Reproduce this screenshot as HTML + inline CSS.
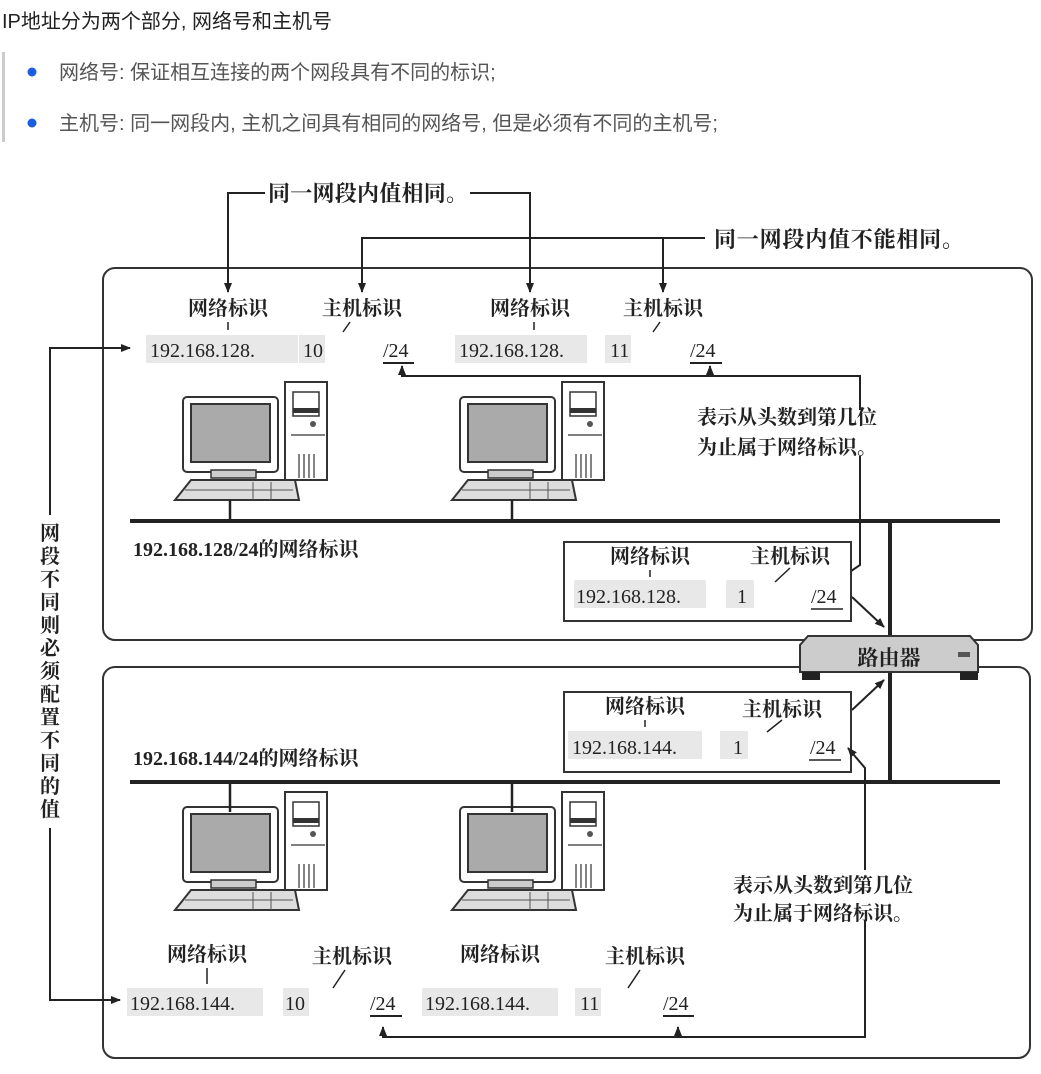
<!DOCTYPE html>
<html><head><meta charset="utf-8"><style>
body{margin:0;background:#fff;width:1041px;height:1074px;overflow:hidden}
svg{display:block}
.h{font-family:"Liberation Sans","Noto Sans CJK SC",sans-serif}
.s{font-family:"Liberation Serif","Noto Serif CJK SC",serif;fill:#222}
</style></head><body>
<svg width="1041" height="1074" viewBox="0 0 1041 1074" xmlns="http://www.w3.org/2000/svg">
<defs>
<marker id="a" markerWidth="10" markerHeight="10" refX="9" refY="5" orient="auto" markerUnits="userSpaceOnUse"><path d="M0,1 L10,5 L0,9 Z" fill="#222"/></marker>
<g id="pc">
 <rect x="0" y="15" width="95" height="75" rx="4" fill="#fff" stroke="#333" stroke-width="2"/>
 <rect x="8" y="22" width="79" height="58" fill="#aaa" stroke="#333" stroke-width="2"/>
 <rect x="28" y="88" width="45" height="8" fill="#ccc" stroke="#333" stroke-width="1.5"/>
 <rect x="102" y="0" width="42" height="98" fill="#fff" stroke="#333" stroke-width="2"/>
 <rect x="110" y="10" width="26" height="24" fill="#fff" stroke="#333" stroke-width="1.5"/>
 <rect x="110" y="26" width="26" height="5" fill="#333"/>
 <circle cx="130" cy="42" r="3" fill="#555"/>
 <path d="M108,53 H142 M116,72 V96 M121,72 V96 M126,72 V96 M131,72 V96" stroke="#333" stroke-width="1.2"/>
 <path d="M-8,118 L8,98 H112 L116,118 Z" fill="#ddd" stroke="#333" stroke-width="2"/>
 <path d="M2,108 H110 M70,100 V118 M88,100 V118" stroke="#555" stroke-width="1"/>
</g>
</defs>

<text class="h" x="2" y="28" font-size="20" fill="#222">IP地址分为两个部分, 网络号和主机号</text>
<rect x="2" y="52" width="3" height="90" fill="#ccc"/>
<circle cx="32" cy="72" r="4.5" fill="#1a5de0"/>
<text class="h" x="59" y="79" font-size="20" fill="#555">网络号: 保证相互连接的两个网段具有不同的标识;</text>
<circle cx="32" cy="123" r="4.5" fill="#1a5de0"/>
<text class="h" x="59" y="130" font-size="20" fill="#555">主机号: 同一网段内, 主机之间具有相同的网络号, 但是必须有不同的主机号;</text>

<g fill="none" stroke="#333" stroke-width="2">
 <rect x="103" y="268" width="929" height="372" rx="12"/>
 <rect x="103" y="667" width="927" height="391" rx="12"/>
</g>

<g stroke="#222" stroke-width="2" fill="none">
 <path d="M265,193 H228 V292" marker-end="url(#a)"/>
 <path d="M470,193 H530 V292" marker-end="url(#a)"/>
 <path d="M705,238 H362 V292" marker-end="url(#a)"/>
 <path d="M663,238 V292" marker-end="url(#a)"/>
</g>
<text class="s" x="268" y="201" font-size="22" font-weight="bold" textLength="200">同一网段内值相同。</text>
<text class="s" x="714" y="247" font-size="22" font-weight="bold" textLength="250">同一网段内值不能相同。</text>

<g class="s" font-size="20" text-anchor="middle" font-weight="bold">
 <text x="228" y="315">网络标识</text><text x="362" y="315">主机标识</text>
 <text x="530" y="315">网络标识</text><text x="663" y="315">主机标识</text>
</g>
<g fill="#e8e8e8"><rect x="146" y="335" width="152" height="28"/><rect x="299" y="335" width="26" height="28"/><rect x="455" y="335" width="132" height="28"/><rect x="605" y="335" width="26" height="28"/></g>
<g stroke="#222" stroke-width="1.5"><path d="M228,322 V330 M534,322 V330 M350,322 L343,332 M660,322 L653,332"/></g>
<g class="s" font-size="20">
 <text x="150" y="357">192.168.128.</text><text x="303" y="357">10</text><text x="383" y="357">/24</text>
 <text x="459" y="357">192.168.128.</text><text x="610" y="357">11</text><text x="690" y="357">/24</text>
</g>
<g stroke="#222" stroke-width="2" fill="none">
 <path d="M383,363 H414 M690,363 H722"/>
 <path d="M860,410 V376 H402 V366" marker-end="url(#a)"/>
 <path d="M710,376 V366" marker-end="url(#a)"/>
 <path d="M860,456 V565 L838,580" marker-end="url(#a)"/>
</g>
<text class="s" x="697" y="424" font-size="20" font-weight="bold">表示从头数到第几位</text>
<text class="s" x="697" y="454" font-size="20" font-weight="bold">为止属于网络标识。</text>

<use href="#pc" x="183" y="382"/>
<use href="#pc" x="460" y="382"/>
<g stroke="#222" stroke-width="4"><path d="M130,521 H1000 M130,782 H1000"/><path d="M890,521 V782"/></g>
<g stroke="#222" stroke-width="2.5"><path d="M230,500 V521 M512,500 V521"/></g>
<text class="s" x="133" y="556" font-size="20" font-weight="bold">192.168.128/24的网络标识</text>

<rect x="564" y="542" width="287" height="79" fill="#fff" stroke="#333" stroke-width="2"/>
<g class="s" font-size="20" text-anchor="middle" font-weight="bold"><text x="650" y="563">网络标识</text><text x="790" y="563">主机标识</text></g>
<rect x="574" y="580" width="132" height="28" fill="#e8e8e8"/><rect x="726" y="580" width="28" height="28" fill="#e8e8e8"/>
<g class="s" font-size="20"><text x="576" y="603">192.168.128.</text><text x="737" y="603">1</text><text x="811" y="603">/24</text></g>
<g stroke="#222" stroke-width="1.5"><path d="M650,570 V577 M790,568 L775,582"/><path d="M811,609 H843"/></g>

<path d="M808,636 H970 L978,645 V672 H800 V645 Z" fill="#ccc" stroke="#333" stroke-width="2"/>
<rect x="802" y="672" width="18" height="8" fill="#222"/><rect x="960" y="672" width="18" height="8" fill="#222"/>
<rect x="958" y="652" width="12" height="5" fill="#555"/>
<text class="s" x="889" y="665" font-size="21" font-weight="bold" text-anchor="middle">路由器</text>
<g stroke="#222" stroke-width="2" fill="none">
 <path d="M852,597 L884,627" marker-end="url(#a)"/>
 <path d="M852,710 L884,680" marker-end="url(#a)"/>
</g>

<rect x="564" y="692" width="287" height="80" fill="#fff" stroke="#333" stroke-width="2"/>
<g class="s" font-size="20" text-anchor="middle" font-weight="bold"><text x="645" y="713">网络标识</text><text x="782" y="716">主机标识</text></g>
<rect x="568" y="731" width="134" height="28" fill="#e8e8e8"/><rect x="720" y="731" width="28" height="28" fill="#e8e8e8"/>
<g class="s" font-size="20"><text x="572" y="754">192.168.144.</text><text x="733" y="754">1</text><text x="810" y="754">/24</text></g>
<g stroke="#222" stroke-width="1.5"><path d="M645,720 V727 M782,720 L767,732"/><path d="M809,760 H841"/></g>
<text class="s" x="133" y="765" font-size="20" font-weight="bold">192.168.144/24的网络标识</text>

<use href="#pc" x="183" y="792"/>
<use href="#pc" x="460" y="792"/>
<g stroke="#222" stroke-width="2.5"><path d="M230,782 V812 M512,782 V812"/></g>

<g class="s" font-size="20" text-anchor="middle" font-weight="bold">
 <text x="207" y="961">网络标识</text><text x="352" y="963">主机标识</text>
 <text x="500" y="961">网络标识</text><text x="645" y="963">主机标识</text>
</g>
<rect x="127" y="988" width="136" height="28" fill="#e8e8e8"/><rect x="283" y="988" width="26" height="28" fill="#e8e8e8"/><rect x="422" y="988" width="136" height="28" fill="#e8e8e8"/><rect x="575" y="988" width="26" height="28" fill="#e8e8e8"/>
<g stroke="#222" stroke-width="1.5"><path d="M207,968 V984 M345,970 L333,988 M640,970 L628,988"/></g>
<g class="s" font-size="20">
 <text x="130" y="1010">192.168.144.</text><text x="285" y="1010">10</text><text x="370" y="1010">/24</text>
 <text x="425" y="1010">192.168.144.</text><text x="580" y="1010">11</text><text x="663" y="1010">/24</text>
</g>
<g stroke="#222" stroke-width="2" fill="none">
 <path d="M370,1016 H402 M663,1016 H694"/>
 <path d="M865,870 V768 L848,748" marker-end="url(#a)"/>
 <path d="M865,920 V1037 H383 V1027" marker-end="url(#a)"/>
 <path d="M678,1037 V1027" marker-end="url(#a)"/>
</g>
<text class="s" x="733" y="892" font-size="20" font-weight="bold">表示从头数到第几位</text>
<text class="s" x="733" y="920" font-size="20" font-weight="bold">为止属于网络标识。</text>

<g stroke="#222" stroke-width="2" fill="none">
 <path d="M50,515 V348 H130" marker-end="url(#a)"/>
 <path d="M50,828 V1000 H120" marker-end="url(#a)"/>
</g>
<g class="s" font-size="20" text-anchor="middle" font-weight="bold">
 <text x="50" y="540">网</text><text x="50" y="563">段</text><text x="50" y="586">不</text><text x="50" y="609">同</text><text x="50" y="632">则</text><text x="50" y="655">必</text><text x="50" y="678">须</text><text x="50" y="701">配</text><text x="50" y="724">置</text><text x="50" y="747">不</text><text x="50" y="770">同</text><text x="50" y="793">的</text><text x="50" y="816">值</text>
</g>
</svg>
</body></html>
